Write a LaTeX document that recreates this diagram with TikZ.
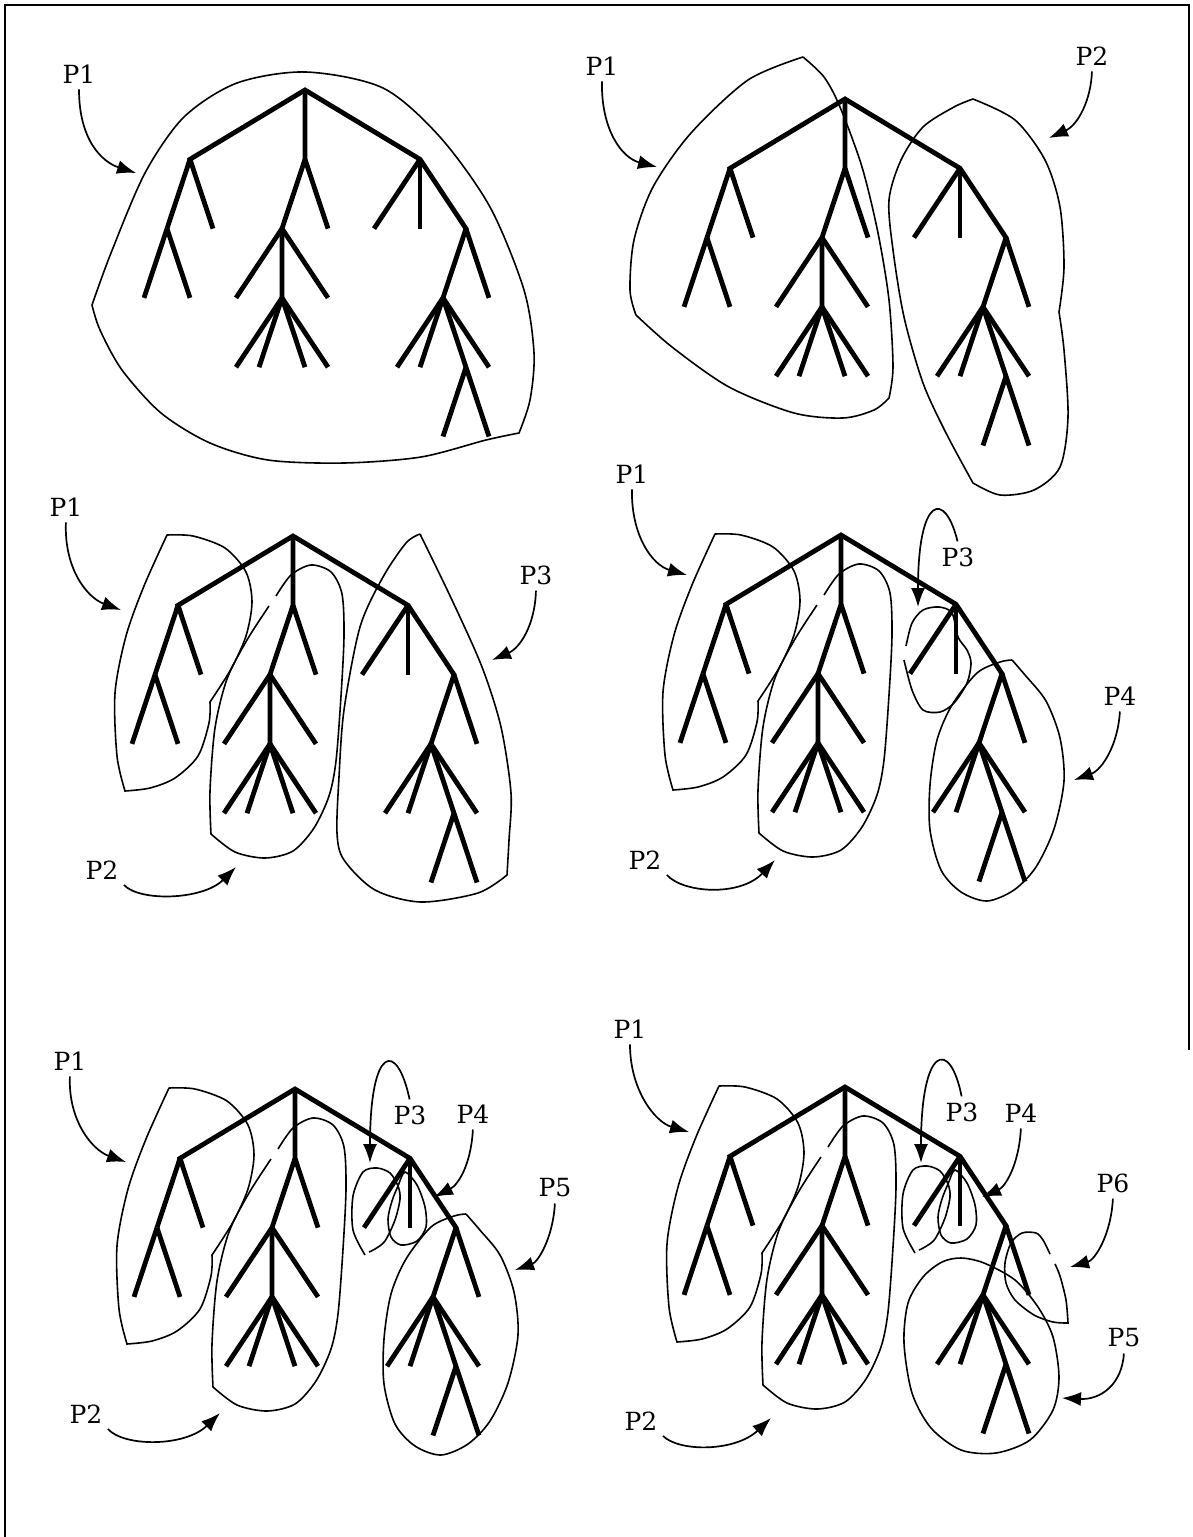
\documentclass[tikz,border=0pt]{standalone}
\usepackage{fontspec}
\setmainfont{DejaVu Serif}
\usepackage{tikz}
\usetikzlibrary{arrows.meta}
\tikzset{>={Latex[length=19pt,width=14pt]}}
\tikzset{
  branch/.style={line width=4.8pt},
  part/.style={line width=1.6pt},
  pointer/.style={->, line width=1.7pt, shorten <=2pt},
  lbl/.style={inner sep=4pt, font=\fontsize{25}{30}\selectfont},
  frame/.style={line width=2pt}
}
% the same tree in every panel, #1 = its root
\newcommand{\drawtree}[1]{%
  \begin{scope}[shift={#1}, x=23pt, y=-69.3pt, branch]
    \draw (-4,2) -- (-5,1) -- (0,0) -- (5,1) -- (7,2) -- (6,3) -- (7,4) -- (8,5);
    \draw (0,0) -- (0,1) -- (-1,2) -- (-1,3);
    \foreach \xa/\ya/\xb/\yb in {-5/1/-6/2, -6/2/-7/3, -6/2/-5/3, 0/1/1/2,
        -1/2/-3/3, -1/2/1/3, -1/3/-3/4, -1/3/-2/4, -1/3/0/4, -1/3/1/4,
        5/1/3/2, 5/1/5/2, 7/2/8/3, 6/3/4/4, 6/3/5/4, 6/3/8/4, 7/4/6/5}
      \draw (\xa,\ya) -- (\xb,\yb);
  \end{scope}}
% outlines that come back in the lower panels, drawn round the root #1
\newcommand{\partone}[1]{%
  \draw[part, shift={#1}] plot[smooth] coordinates {(-126,-1) (-100,0) (-68,12) (-47,36) (-41,66) (-47,100) (-62,133) (-83,166)}
    -- plot[smooth] coordinates {(-83,166) (-84,187) (-95,220) (-118,242) (-143,252) (-168,255)}
    -- plot[smooth] coordinates {(-168,255) (-176,220) (-178,157) (-167,100) (-149,50) (-126,-1)};}
\newcommand{\parttwo}[1]{%
  \draw[part, shift={#1}] plot[smooth] coordinates {(-17,60) (-2,39) (18,29) (38,36) (49,58) (51,100) (48,160) (43,225) (36,260) (21,292) (0,315) (-28,322) (-58,316) (-82,298)}
    -- plot[smooth] coordinates {(-82,298) (-83,255) (-78,192) (-66,143) (-46,104) (-24,70)};}
\newcommand{\leafpart}[1]{%
  \draw[part, shift={#1}] plot[smooth] coordinates {(171,125) (159,127) (136,138) (111,170) (96,205) (89,250) (89,295) (100,335) (120,357) (146,366) (173,355) (195,332) (213,294) (223,246) (219,203) (205,166) (184,140) (171,125)};}
\newcommand{\smallparts}[1]{%
  \draw[part, shift={#1}] plot[smooth] coordinates {(70,166) (58,141) (58,107) (68,83) (82,79) (95,84) (103,97) (105,110) (100,131) (90,152) (80,160) (74,163)};
  \draw[part, shift={#1}] plot[smooth cycle] coordinates {(110,83) (122,96) (130,118) (131,138) (122,152) (106,156) (96,148) (93,130) (97,112) (103,97)};}

\begin{document}
\begin{tikzpicture}[x=1pt, y=-1pt]
  \useasboundingbox (0,0) rectangle (1193,1537);
  \draw[frame] (5,1537) -- (5,5) -- (1189,5) -- (1189,1050);

  \coordinate (r1) at (305,90);
  \coordinate (r2) at (845,99);
  \coordinate (r3) at (293,536);
  \coordinate (r4) at (841,535);
  \coordinate (r5) at (295,1089);
  \coordinate (r6) at (845,1087);
  \foreach \r in {r1,r2,r3,r4,r5,r6}
    \drawtree{(\r)};

  \draw[part] plot[smooth] coordinates {(92,305) (111,253) (145,173) (184,117) (237,83) (306,72) (383,88) (440,137) (490,207) (524,290) (534,353) (530,400) (519,433)}
    -- plot[smooth] coordinates {(519,433) (486,440) (421,457) (344,463) (268,460) (210,443) (161,413) (122,370) (100,330) (92,305)};
  \node[lbl] (l1p1) at (79,74) {P1};
  \coordinate (t1p1) at (136,173);
  \draw[pointer] (l1p1.south) .. controls (79,140) and (102,162) .. (t1p1);

  \draw[part] plot[smooth] coordinates {(803,57) (748,80) (691,133) (653,187) (634,240) (630,290) (636,315)}
    -- plot[smooth] coordinates {(636,315) (672,347) (729,387) (794,413) (843,418) (874,410) (889,398)}
    -- plot[smooth] coordinates {(889,398) (893,367) (889,300) (878,233) (862,167) (840,107) (824,77) (803,57)};
  \draw[part] plot[smooth] coordinates {(973,99) (1015,120) (1045,160) (1060,207) (1064,267) (1059,312)}
    -- plot[smooth] coordinates {(1059,312) (1064,350) (1068,417) (1060,467) (1034,490) (1000,495) (973,483)}
    -- plot[smooth] coordinates {(973,483) (946,433) (923,383) (904,317) (893,250) (889,200) (901,160) (923,127) (954,107) (973,99)};
  \node[lbl] (l2p1) at (602,66) {P1};
  \node[lbl] (l2p2) at (1092,56) {P2};
  \coordinate (t2p1) at (657,167);
  \coordinate (t2p2) at (1049,138);
  \draw[pointer] (l2p1.south) .. controls (601,130) and (622,158) .. (t2p1);
  \draw[pointer] (l2p2.south) .. controls (1091,100) and (1078,125) .. (t2p2);

  \partone{(r3)}
  \parttwo{(r3)}
  \draw[part] plot[smooth] coordinates {(420,534) (452,600) (482,667) (501,727) (511,793) (509,840) (507,875)}
    -- plot[smooth] coordinates {(507,875) (478,893) (421,902) (375,890) (344,860) (337,833) (339,777) (344,710) (360,627) (383,577) (406,543) (420,534)};
  \node[lbl] (l3p1) at (66,507) {P1};
  \node[lbl] (l3p2) at (102,870) {P2};
  \node[lbl] (l3p3) at (536,575) {P3};
  \coordinate (t3p1) at (121,610);
  \coordinate (t3p2) at (236,867);
  \coordinate (t3p3) at (492,660);
  \draw[pointer] (l3p1.south) .. controls (64,570) and (88,598) .. (t3p1);
  \draw[pointer] (l3p2.south east) .. controls (140,902) and (203,900) .. (t3p2);
  \draw[pointer] (l3p3.south) .. controls (535,625) and (520,648) .. (t3p3);

  \partone{(r4)}
  \parttwo{(r4)}
  \draw[part] plot[smooth] coordinates {(906,646) (912,623) (923,610) (939,607) (952,613) (958,637) (967,650) (971,663) (967,683) (954,703) (940,712) (923,710) (912,690) (904,660)};
  \leafpart{(r4)}
  \node[lbl] (l4p1) at (632,474) {P1};
  \node[lbl] (l4p2) at (645,860) {P2};
  \node[lbl] (l4p3) at (958,557) {P3};
  \node[lbl] (l4p4) at (1120,696) {P4};
  \coordinate (t4p1) at (687,575);
  \coordinate (t4p2) at (775,860);
  \coordinate (t4p3) at (918,607);
  \coordinate (t4p4) at (1074,780);
  \draw[pointer] (l4p1.south) .. controls (631,535) and (652,565) .. (t4p1);
  \draw[pointer] (l4p2.south east) .. controls (683,893) and (740,897) .. (t4p2);
  \draw[pointer] (l4p3.north) .. controls (945,490) and (918,495) .. (t4p3);
  \draw[pointer] (l4p4.south) .. controls (1118,745) and (1102,770) .. (t4p4);

  \partone{(r5)}
  \parttwo{(r5)}
  \smallparts{(r5)}
  \leafpart{(r5)}
  \node[lbl] (l5p1) at (70,1061) {P1};
  \node[lbl] (l5p2) at (86,1414) {P2};
  \node[lbl] (l5p3) at (410,1115) {P3};
  \node[lbl] (l5p4) at (473,1114) {P4};
  \node[lbl] (l5p5) at (555,1188) {P5};
  \coordinate (t5p1) at (126,1162);
  \coordinate (t5p2) at (220,1413);
  \coordinate (t5p3) at (370,1163);
  \coordinate (t5p4) at (434,1197);
  \coordinate (t5p5) at (515,1270);
  \draw[pointer] (l5p1.south) .. controls (68,1120) and (92,1150) .. (t5p1);
  \draw[pointer] (l5p2.south east) .. controls (124,1447) and (185,1447) .. (t5p2);
  \draw[pointer] (l5p3.north) .. controls (397,1040) and (370,1045) .. (t5p3);
  \draw[pointer] (l5p4.south) .. controls (471,1165) and (458,1185) .. (t5p4);
  \draw[pointer] (l5p5.south) .. controls (553,1238) and (538,1262) .. (t5p5);

  \partone{(r6)}
  \parttwo{(r6)}
  \smallparts{(r6)}
  \draw[part] plot[smooth cycle] coordinates {(961,1258) (984,1263) (1015,1280) (1038,1307) (1053,1337) (1059,1377) (1053,1410) (1030,1440) (996,1453) (961,1450) (931,1428) (912,1393) (904,1343) (908,1303) (923,1277) (942,1262)};
  \draw[part] plot[smooth] coordinates {(1050,1254) (1043,1240) (1036,1233) (1022,1233) (1011,1243) (1005,1263) (1006,1283) (1015,1300) (1034,1315) (1053,1322) (1068,1323)}
    -- plot[smooth] coordinates {(1068,1323) (1066,1300) (1060,1276) (1055,1264)};
  \node[lbl] (l6p1) at (630,1029) {P1};
  \node[lbl] (l6p2) at (641,1421) {P2};
  \node[lbl] (l6p3) at (962,1112) {P3};
  \node[lbl] (l6p4) at (1021,1113) {P4};
  \node[lbl] (l6p6) at (1113,1183) {P6};
  \node[lbl] (l6p5) at (1124,1338) {P5};
  \coordinate (t6p1) at (689,1132);
  \coordinate (t6p2) at (771,1418);
  \coordinate (t6p3) at (921,1163);
  \coordinate (t6p4) at (982,1197);
  \coordinate (t6p6) at (1070,1267);
  \coordinate (t6p5) at (1062,1398);
  \draw[pointer] (l6p1.south) .. controls (630,1090) and (655,1122) .. (t6p1);
  \draw[pointer] (l6p2.south east) .. controls (679,1452) and (735,1452) .. (t6p2);
  \draw[pointer] (l6p3.north) .. controls (950,1038) and (921,1045) .. (t6p3);
  \draw[pointer] (l6p4.south) .. controls (1019,1165) and (1005,1187) .. (t6p4);
  \draw[pointer] (l6p6.south) .. controls (1111,1235) and (1095,1260) .. (t6p6);
  \draw[pointer] (l6p5.south) .. controls (1122,1385) and (1100,1400) .. (t6p5);
\end{tikzpicture}
\end{document}
